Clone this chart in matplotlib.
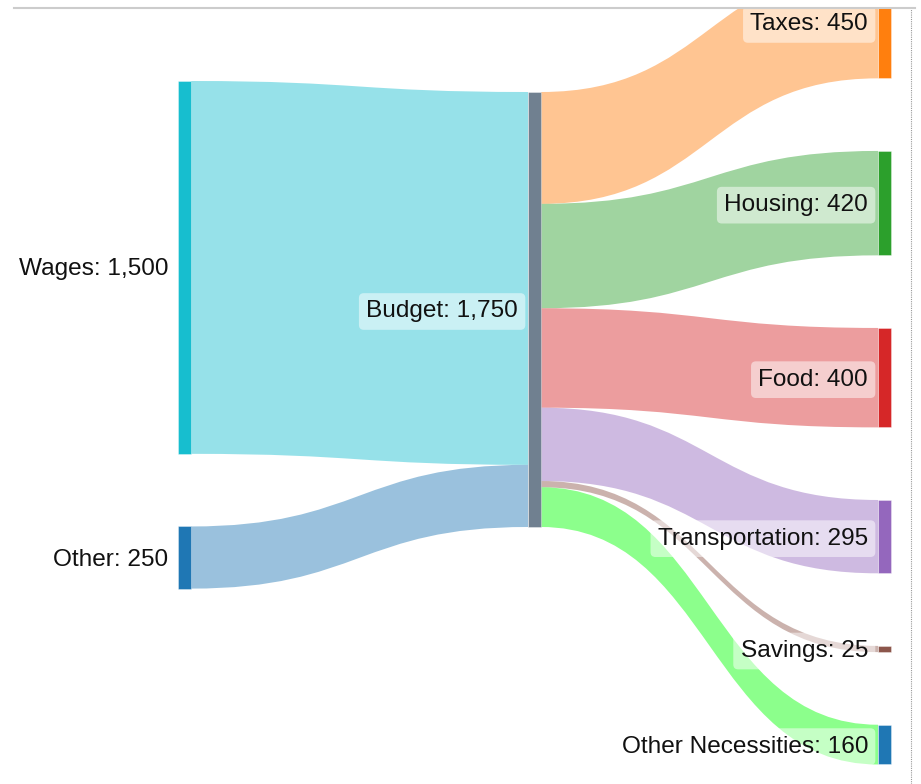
import matplotlib.pyplot as plt
from matplotlib.path import Path
from matplotlib.patches import PathPatch, Rectangle
from matplotlib.lines import Line2D
from matplotlib.colors import to_rgba

plt.rcParams['font.family'] = ['Liberation Sans', 'DejaVu Sans']

# sankey data
node_names = ['Wages', 'Other', 'Budget', 'Taxes', 'Housing', 'Food',
              'Transportation', 'Savings', 'Other Necessities']
node_colors = ['#17becf', '#1f77b4', '#708090', '#ff7f0e', '#2ca02c',
               '#d62728', '#9467bd', '#8c564b', '#1f77b4']
sources = [0, 1, 2, 2, 2, 2, 2, 2]
targets = [2, 2, 3, 4, 5, 6, 7, 8]
values = [1500, 250, 450, 420, 400, 295, 25, 160]
link_colors = ['#17becf', '#1f77b4', '#ff7f0e', '#2ca02c', '#d62728',
               '#9467bd', '#8c564b', '#00ff00']

# layout (pixels)
scale = 435 / 1750
gap = 72.6
col_x = [178, 528, 878]
col_top = [81, 92, -33.5]
node_w = 13
link_alpha = 0.45

n = len(node_names)
inflow = [0] * n
outflow = [0] * n
for s, t, v in zip(sources, targets, values):
    outflow[s] += v
    inflow[t] += v
node_val = [max(a, b) for a, b in zip(inflow, outflow)]

# column = longest path from a source
col = [0] * n
for _ in range(n):
    for s, t in zip(sources, targets):
        col[t] = max(col[t], col[s] + 1)

node_y = [0.0] * n
cursor = {c: col_top[c] for c in set(col)}
for i in range(n):
    c = col[i]
    node_y[i] = cursor[c]
    cursor[c] += node_val[i] * scale + gap

fig = plt.figure(figsize=(9.21, 7.84), dpi=100)
ax = fig.add_axes([0, 0, 1, 775 / 784])
ax.set_xlim(0, 921)
ax.set_ylim(784, 9)
ax.axis('off')

# links
out_off = list(node_y)
in_off = list(node_y)
for s, t, v, c in zip(sources, targets, values, link_colors):
    h = v * scale
    x0 = col_x[col[s]] + node_w
    x1 = col_x[col[t]]
    xm = (x0 + x1) / 2
    y0a, y0b = out_off[s], out_off[s] + h
    y1a, y1b = in_off[t], in_off[t] + h
    out_off[s] += h
    in_off[t] += h
    verts = [(x0, y0a), (xm, y0a), (xm, y1a), (x1, y1a),
             (x1, y1b), (xm, y1b), (xm, y0b), (x0, y0b), (x0, y0a)]
    codes = [Path.MOVETO, Path.CURVE4, Path.CURVE4, Path.CURVE4,
             Path.LINETO, Path.CURVE4, Path.CURVE4, Path.CURVE4, Path.CLOSEPOLY]
    ax.add_patch(PathPatch(Path(verts, codes), facecolor=to_rgba(c, link_alpha),
                           edgecolor='none', zorder=1))

# nodes + labels
for i in range(n):
    x = col_x[col[i]]
    h = node_val[i] * scale
    ax.add_patch(Rectangle((x, node_y[i]), node_w, h, facecolor=node_colors[i],
                           edgecolor=(1, 1, 1, 0.5), linewidth=0.5, zorder=2))
    ax.text(x - 10, node_y[i] + h / 2 + 2, f'{node_names[i]}: {node_val[i]:,}',
            ha='right', va='center', fontsize=17.6, color='#111111', zorder=3,
            bbox=dict(boxstyle='round,pad=0.3,rounding_size=0.2',
                      facecolor=(1, 1, 1, 0.5), edgecolor='none'))

# frame bits from the screenshot
fig.add_artist(Line2D([14 / 921, 915 / 921], [1 - 8 / 784] * 2,
                      transform=fig.transFigure, color='#cccccc', lw=1.5))
fig.add_artist(Line2D([911 / 921] * 2, [0, 1 - 9 / 784],
                      transform=fig.transFigure, color='#999999', lw=0.8,
                      linestyle=(0, (1, 1))))

fig.savefig('out.png', dpi=100, facecolor='white')
